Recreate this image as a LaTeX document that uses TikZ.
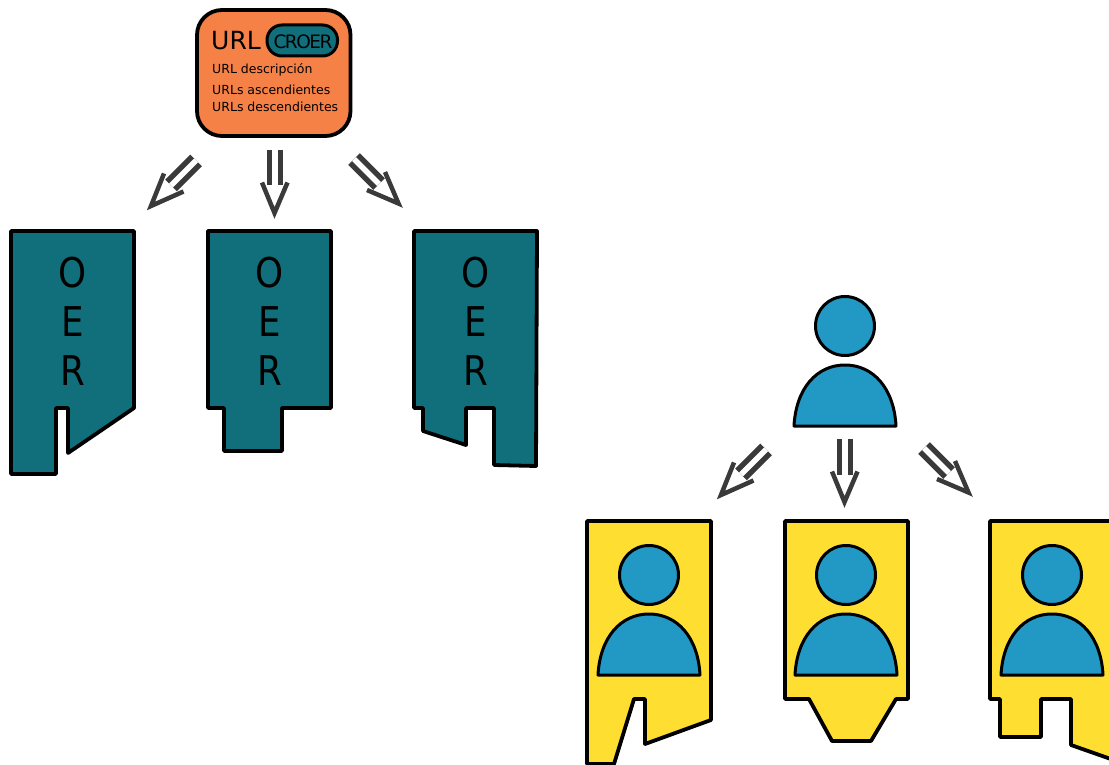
\documentclass[tikz,border=0pt]{standalone}
\usepackage{fontspec}
\setmainfont{DejaVu Sans}
\newfontfamily\tightfont[LetterSpace=-8]{DejaVu Sans}
\definecolor{tealc}{HTML}{116F7C}
\definecolor{orangec}{HTML}{F58147}
\definecolor{yellowc}{HTML}{FFDE32}
\definecolor{bluec}{HTML}{2299C4}
\definecolor{arrowc}{HTML}{3A3A3A}
\tikzset{
  oershape/.style={draw=black,fill=tealc,line width=3.8pt,line join=round},
  usershape/.style={draw=black,fill=yellowc,line width=3.8pt,line join=round},
  personpart/.style={draw=black,fill=bluec,line width=3pt,line join=round},
  shaft/.style={draw=arrowc,line width=5.5pt,double=white,double distance=5.5pt},
  head/.style={draw=arrowc,line width=4.5pt,line join=miter,fill=none},
  oerletter/.style={font=\fontsize{41}{41}\selectfont,anchor=base,inner sep=0pt,text=black,xscale=0.87},
  small/.style={font=\fontsize{12.5}{12.5}\selectfont,anchor=base west,inner sep=0pt,text=black}
}
\newcommand{\personat}[2]{%
  \draw[personpart] (#1,#2) circle[radius=29.5];
  \draw[personpart] ({#1-51},{#2+100}) .. controls ({#1-49},{#2+62}) and ({#1-28},{#2+39}) .. (#1,{#2+39})
     .. controls ({#1+28},{#2+39}) and ({#1+49},{#2+62}) .. ({#1+51},{#2+100}) -- cycle;
}
\newcommand{\oerletters}[1]{%
  \node[oerletter] at ({#1+1},287) {O};
  \node[oerletter] at ({#1+1},336) {E};
  \node[oerletter] at ({#1+0.5},385) {R};
}
\newcommand{\arrowtrio}[2]{%
  \begin{scope}[shift={(#1,#2)}]
    \draw[shaft] (196,160.5) -- (171,185.5);
    \draw[head] (164,173.5) -- (151,206) -- (183.5,191.5);
    \draw[shaft] (275,150) -- (275,185.5);
    \draw[head] (262,182.5) -- (274.5,213) -- (287.5,182.5);
    \draw[shaft] (354,159) -- (379,184);
    \draw[head] (385,172) -- (398.5,203.5) -- (367,190);
  \end{scope}
}
\begin{document}
\begin{tikzpicture}[x=1pt,y=-1pt]
\useasboundingbox (0,0) rectangle (1109,765);
\clip (0,0) rectangle (1109,765);
\fill[white] (0,0) rectangle (1109,765);
% URL card
\draw[draw=black,fill=orangec,line width=3.8pt,rounded corners=25pt] (197,10) rectangle (350.5,136);
\draw[draw=black,fill=tealc,line width=3pt,rounded corners=15pt] (267,25) rectangle (337.5,56);
\node[anchor=base west,inner sep=0pt,font=\fontsize{25}{25}\selectfont] (url) at (211,50) {URL};
\node[anchor=base,inner sep=0pt,font=\tightfont\fontsize{18.5}{18.5}\selectfont] (croer) at (303,48.5) {CROER};
\node[small] (d1) at (212,73.5) {URL descripción};
\node[small] (d2) at (212,94.5) {URLs ascendientes};
\node[small] (d3) at (212,111.5) {URLs descendientes};
\arrowtrio{0}{0}
% OER shapes
\draw[oershape] (11,231) -- (134,231) -- (134,408) -- (68,453) -- (68,408) -- (56,408) -- (56,474) -- (11,474) -- cycle;
\oerletters{72}
\draw[oershape] (208,231) -- (331,231) -- (331,408) -- (282,408) -- (282,451) -- (224,451) -- (224,408) -- (208,408) -- cycle;
\oerletters{269}
\draw[oershape] (414,231) -- (537,231) -- (536,466) -- (494,465) -- (494,408) -- (466,408) -- (466,445) -- (423,431) -- (423,408) -- (414,408) -- cycle;
\oerletters{475}
% top person
\personat{845}{326}
\arrowtrio{570}{289}
% user shapes
\draw[usershape] (587,521) -- (711,521) -- (711,720) -- (645,744) -- (645,699) -- (634,699) -- (614,764) -- (587,764) -- cycle;
\personat{649}{575}
\draw[usershape] (785,521) -- (908,521) -- (908,699) -- (896,699) -- (871,741) -- (832,741) -- (809,699) -- (785,699) -- cycle;
\personat{846}{575}
\draw[usershape] (990,521) -- (1125,521) -- (1125,764) -- (1071,745) -- (1071,699) -- (1041,699) -- (1041,737) -- (1000,737) -- (1000,699) -- (990,699) -- cycle;
\personat{1052}{575}
\end{tikzpicture}
\end{document}
